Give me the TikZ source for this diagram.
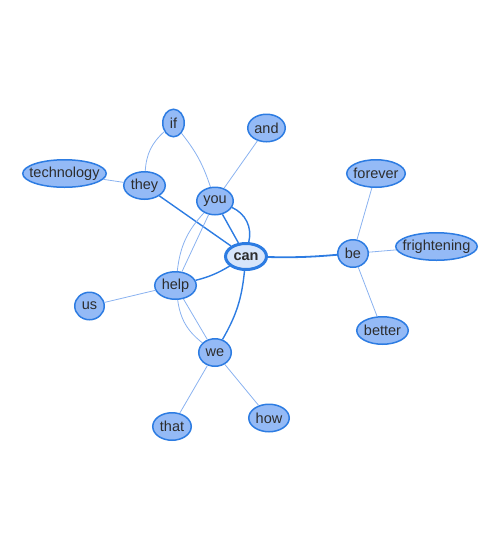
\documentclass[tikz,border=0pt]{standalone}
\usepackage{fontspec}
\setmainfont{Liberation Sans}
\usetikzlibrary{shapes.geometric}

\definecolor{nodefill}{RGB}{148,186,246}
\definecolor{nodeline}{RGB}{45,124,226}
\definecolor{hubfill}{RGB}{214,229,251}
\definecolor{edgelight}{RGB}{138,178,240}
\definecolor{wordtext}{RGB}{45,45,45}

% word label with no width of its own, so the ellipse keeps its set size
\newcommand{\wordlabel}[1]{\makebox[0pt]{#1}}

\begin{document}
\begin{tikzpicture}[x=1pt, y=1pt]
   \fontsize{14.5pt}{16pt}\selectfont
    % --- STYLES ---
    \tikzstyle{word} = [ellipse, draw=nodeline, line width=1.5pt, fill=nodefill, text=wordtext, inner sep=0pt, minimum height=27.5]
    \tikzstyle{hub} = [word, fill=hubfill, line width=3pt, font=\bfseries, minimum height=26]
    \tikzstyle{link} = [draw=edgelight, line width=0.8pt]
    \tikzstyle{strong} = [draw=nodeline, line width=1.4pt]

    \useasboundingbox (0, 0) rectangle (500, -550);

    % --- NODES ---
    \node (can)         [hub, minimum width=41]    at (246, -256.5) {\wordlabel{can}};
    \node (you)         [word, minimum width=36.5] at (215, -201) {\wordlabel{you}};
    \node (they)        [word, minimum width=41.5] at (144.5, -185.5) {\wordlabel{they}};
    \node (if)          [word, minimum width=21.5] at (173.5, -123) {\wordlabel{if}};
    \node (and)         [word, minimum width=37.5] at (266.5, -128) {\wordlabel{and}};
    \node (technology)  [word, minimum width=83.5] at (64.5, -173.5) {\wordlabel{technology}};
    \node (help)        [word, minimum width=41.5] at (175.5, -285.5) {\wordlabel{help}};
    \node (us)          [word, minimum width=29.5] at (89.5, -306) {\wordlabel{us}};
    \node (we)          [word, minimum width=32.5] at (215, -352.5) {\wordlabel{we}};
    \node (that)        [word, minimum width=38.5] at (172, -426.5) {\wordlabel{that}};
    \node (how)         [word, minimum width=40.5] at (269, -418) {\wordlabel{how}};
    \node (be)          [word, minimum width=30.5] at (353, -253.5) {\wordlabel{be}};
    \node (forever)     [word, minimum width=58.5] at (376, -173.5) {\wordlabel{forever}};
    \node (frightening) [word, minimum width=81.5] at (436.5, -246.5) {\wordlabel{frightening}};
    \node (better)      [word, minimum width=51.5] at (382.5, -330.5) {\wordlabel{better}};

    % --- EDGES ---
    % links of the hub
    \draw[strong, line width=1.8pt] (can) to[bend right=3] (be);
    \draw[strong] (they) -- (can);
    \draw[strong] (you) -- (can);
    \draw[strong] (you) to[bend left=40] (can);
    \draw[strong] (help) to[bend right=8] (can);
    \draw[strong] (can) to[bend left=12] (we);

    % weaker links
    \draw[link] (you) -- (help);
    \draw[link] (you) to[bend right=18] (help);
    \draw[link] (help) -- (we);
    \draw[link] (help) to[bend right=22] (we);
    \draw[link] (if) to[bend left=10] (you);
    \draw[link] (if) to[bend right=22] (they);
    \draw[link] (you) -- (and);
    \draw[link] (they) -- (technology);
    \draw[link] (help) -- (us);
    \draw[link] (we) -- (that);
    \draw[link] (we) -- (how);
    \draw[link] (be) -- (forever);
    \draw[link] (be) -- (frightening);
    \draw[link] (be) -- (better);

  \end{tikzpicture}
\end{document}
